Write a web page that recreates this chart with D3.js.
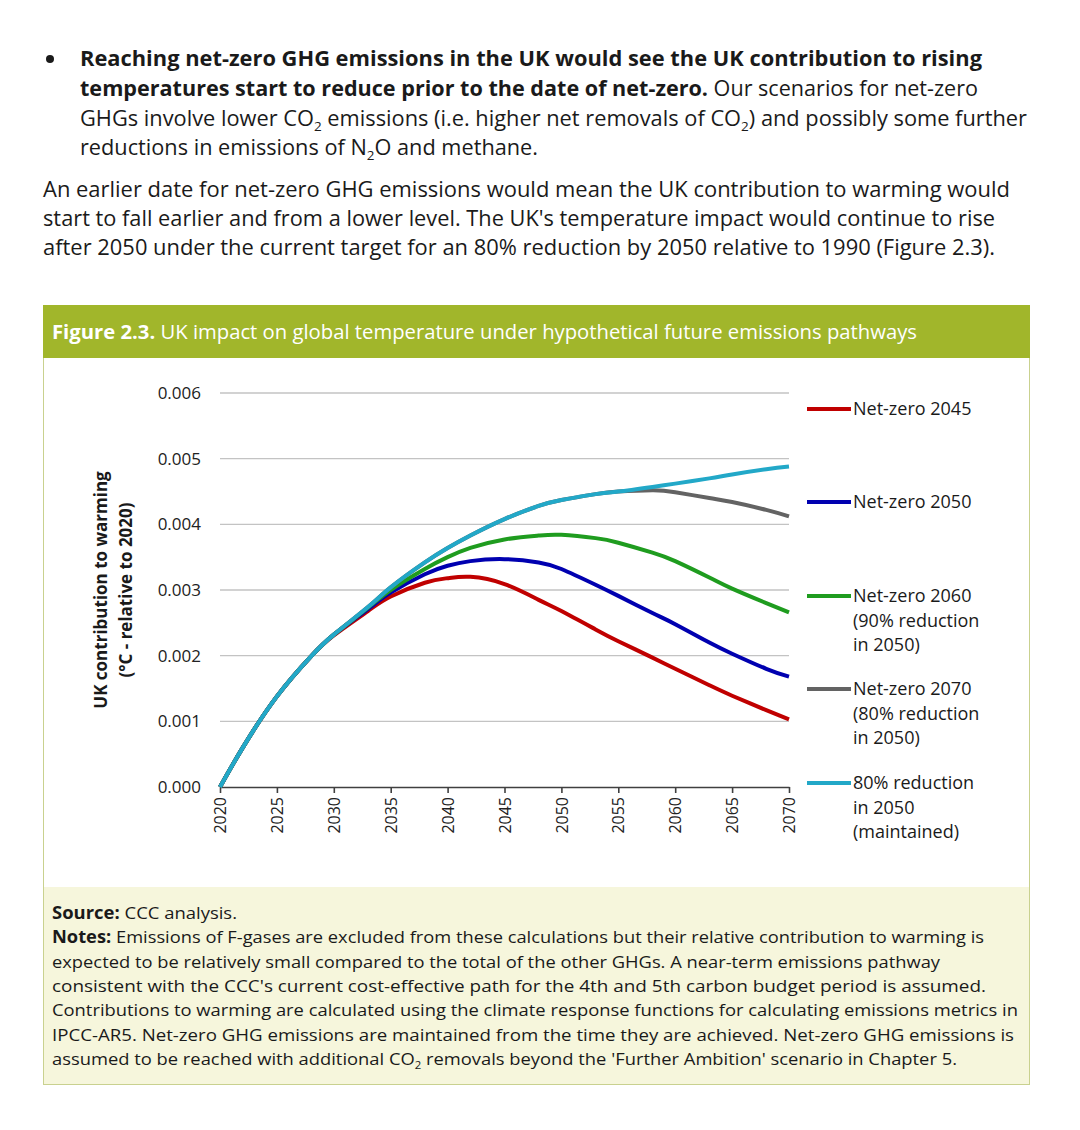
<!DOCTYPE html>
<html>
<head>
<meta charset="utf-8">
<script src="https://cdn.jsdelivr.net/npm/d3@7"></script>
<style>
  html, body { margin: 0; padding: 0; background: #fff; }
  svg { display: block; }
</style>
</head>
<body>
<div id="page"></div>
<script>
// data
const years = [2020, 2022, 2025, 2028, 2030, 2033, 2035, 2038, 2040, 2042, 2045,
  2048, 2050, 2053, 2055, 2058, 2060, 2063, 2065, 2068, 2070];

const netZero2045 = [0, 0.0006, 0.00138, 0.00199, 0.00231, 0.00268, 0.0029, 0.00311, 0.00318, 0.0032, 0.00309,
  0.00285, 0.00268, 0.0024, 0.00222, 0.00197, 0.0018, 0.00155, 0.00139, 0.00117, 0.00103];
const netZero2050 = [0, 0.0006, 0.00138, 0.00199, 0.00232, 0.00271, 0.00296, 0.00324, 0.00337, 0.00344, 0.00347,
  0.00342, 0.00332, 0.00308, 0.00291, 0.00265, 0.00248, 0.0022, 0.00203, 0.0018, 0.00168];
const netZero2060 = [0, 0.0006, 0.00138, 0.00199, 0.00232, 0.00273, 0.003, 0.00332, 0.0035, 0.00364, 0.00377,
  0.00383, 0.00384, 0.00379, 0.00372, 0.00357, 0.00344, 0.00319, 0.00302, 0.0028, 0.00266];
const netZero2070 = [0, 0.0006, 0.00138, 0.00199, 0.00232, 0.00274, 0.00304, 0.00342, 0.00364, 0.00383, 0.00408,
  0.00428, 0.00437, 0.00446, 0.0045, 0.00452, 0.00449, 0.0044, 0.00434, 0.00422, 0.00412];
const reduction80 = [0, 0.0006, 0.00138, 0.00199, 0.00232, 0.00274, 0.00304, 0.00342, 0.00364, 0.00383, 0.00408,
  0.00428, 0.00437, 0.00446, 0.0045, 0.00457, 0.00462, 0.0047, 0.00476, 0.00484, 0.00488];

const seriesNames = ["Net-zero 2045", "Net-zero 2050", "Net-zero 2060", "Net-zero 2070", "80% reduction"];
const seriesColors = ["#c00000", "#0000b0", "#1f9c1f", "#636363", "#22a8c8"];
const legendLines = [
  ["Net-zero 2045"],
  ["Net-zero 2050"],
  ["Net-zero 2060", "(90% reduction", "in 2050)"],
  ["Net-zero 2070", "(80% reduction", "in 2050)"],
  ["80% reduction", "in 2050", "(maintained)"]
];
const legendTop = [409, 502, 596, 689, 783];

const yTicks = [0, 0.001, 0.002, 0.003, 0.004, 0.005, 0.006];
const xTicks = [2020, 2025, 2030, 2035, 2040, 2045, 2050, 2055, 2060, 2065, 2070];

const W = 1080, H = 1130;
const bodyFont = "'Open Sans', 'Noto Sans', sans-serif";

const svg = d3.select("#page").append("svg")
  .attr("width", W)
  .attr("height", H);

// text line made of runs: {t, b (bold), s (subscript)}
function textLine(g, x, y, runs, size, width, color) {
  const t = g.append("text")
    .attr("x", x)
    .attr("y", y)
    .style("font-family", bodyFont)
    .style("font-size", size + "px")
    .attr("fill", color || "#1a1a1a");
  if (width) t.attr("textLength", width).attr("lengthAdjust", "spacingAndGlyphs");
  let shift = 0;
  runs.forEach(r => {
    const ts = t.append("tspan");
    if (r.s) {
      ts.attr("dy", size * 0.22).style("font-size", (size * 0.62) + "px");
      shift = size * 0.22;
    } else {
      if (shift) ts.attr("dy", -shift);
      shift = 0;
      ts.attr("font-weight", r.b ? 700 : 400);
    }
    ts.text(r.t);
  });
  return t;
}

// ---- paragraph above the figure
const para = svg.append("g");
para.append("circle").attr("cx", 50).attr("cy", 59).attr("r", 4).attr("fill", "#1a1a1a");
textLine(para, 80, 66, [{ t: "Reaching net-zero GHG emissions in the UK would see the UK contribution to rising", b: true }], 21, 902);
textLine(para, 80, 96, [{ t: "temperatures start to reduce prior to the date of net-zero.", b: true },
  { t: " Our scenarios for net-zero" }], 21, 898);
textLine(para, 80, 126, [{ t: "GHGs involve lower CO" }, { t: "2", s: true }, { t: " emissions (i.e. higher net removals of CO" },
  { t: "2", s: true }, { t: ") and possibly some further" }], 21, 947);
textLine(para, 80, 155, [{ t: "reductions in emissions of N" }, { t: "2", s: true }, { t: "O and methane." }], 21, 458);
textLine(para, 43, 197, [{ t: "An earlier date for net-zero GHG emissions would mean the UK contribution to warming would" }], 21, 967);
textLine(para, 43, 226, [{ t: "start to fall earlier and from a lower level. The UK's temperature impact would continue to rise" }], 21, 952);
textLine(para, 43, 255, [{ t: "after 2050 under the current target for an 80% reduction by 2050 relative to 1990 (Figure 2.3)." }], 21, 952);

// ---- figure box
const box = svg.append("g");
box.append("rect").attr("x", 43.5).attr("y", 305.5).attr("width", 986).attr("height", 779)
  .attr("fill", "#fff").attr("stroke", "#c9d18f").attr("stroke-width", 1);
box.append("rect").attr("x", 43).attr("y", 305).attr("width", 987).attr("height", 53).attr("fill", "#a1b62b");
box.append("rect").attr("x", 44).attr("y", 887).attr("width", 985).attr("height", 197).attr("fill", "#f6f6dc");
textLine(box, 52, 339, [{ t: "Figure 2.3.", b: true },
  { t: " UK impact on global temperature under hypothetical future emissions pathways" }], 20, 865, "#fff");

// notes
const notes = [
  [{ t: "Source:", b: true }, { t: " CCC analysis." }],
  [{ t: "Notes:", b: true }, { t: " Emissions of F-gases are excluded from these calculations but their relative contribution to warming is" }],
  [{ t: "expected to be relatively small compared to the total of the other GHGs. A near-term emissions pathway" }],
  [{ t: "consistent with the CCC's current cost-effective path for the 4th and 5th carbon budget period is assumed." }],
  [{ t: "Contributions to warming are calculated using the climate response functions for calculating emissions metrics in" }],
  [{ t: "IPCC-AR5. Net-zero GHG emissions are maintained from the time they are achieved. Net-zero GHG emissions is" }],
  [{ t: "assumed to be reached with additional CO" }, { t: "2", s: true }, { t: " removals beyond the 'Further Ambition' scenario in Chapter 5." }]
];
const noteWidths = [185, 932, 888, 934, 966, 962, 905];
notes.forEach((runs, i) => {
  textLine(box, 52, 919 + i * 24.3, runs, 17, noteWidths[i]);
});

// ---- chart
const x = d3.scaleLinear().domain([2020, 2070]).range([220, 789]);
const y = d3.scaleLinear().domain([0, 0.006]).range([787, 393]);
const chart = svg.append("g").style("font-family", bodyFont);

// gridlines
chart.append("g")
  .selectAll("line")
  .data(yTicks.filter(d => d > 0))
  .enter()
  .append("line")
  .attr("x1", x(2020))
  .attr("x2", x(2070))
  .attr("y1", d => y(d))
  .attr("y2", d => y(d))
  .attr("stroke", "#c3c3c3")
  .attr("stroke-width", 1.3);

// y axis labels
const yAxis = chart.append("g")
  .attr("transform", "translate(" + x(2020) + ",0)")
  .call(d3.axisLeft(y).tickValues(yTicks).tickFormat(d3.format(".3f")).tickSize(0).tickPadding(19));
yAxis.select(".domain").remove();
yAxis.selectAll("text")
  .style("font-family", bodyFont)
  .style("font-size", "17px")
  .attr("fill", "#222");

// x axis
const xAxis = chart.append("g")
  .attr("transform", "translate(0," + y(0) + ")")
  .call(d3.axisBottom(x).tickValues(xTicks).tickFormat(d3.format("d")).tickSizeInner(6).tickSizeOuter(0));
xAxis.select(".domain").attr("stroke", "#404040").attr("stroke-width", 1.6);
xAxis.selectAll(".tick line").attr("stroke", "#404040").attr("stroke-width", 1.6);
xAxis.selectAll("text")
  .style("font-family", bodyFont)
  .style("font-size", "16px")
  .attr("fill", "#222")
  .attr("transform", "rotate(-90)")
  .attr("x", -10)
  .attr("y", 0)
  .attr("dy", "0.35em")
  .style("text-anchor", "end");

// y axis title
const yTitle = chart.append("text")
  .attr("transform", "translate(107,590) rotate(-90)")
  .attr("text-anchor", "middle")
  .style("font-size", "17px")
  .attr("font-weight", 700)
  .attr("fill", "#1a1a1a");
yTitle.append("tspan").attr("x", 0).attr("dy", 0).text("UK contribution to warming");
yTitle.append("tspan").attr("x", 0).attr("dy", 25).text("(\u00B0C - relative to 2020)");

// lines
const allSeries = [netZero2045, netZero2050, netZero2060, netZero2070, reduction80];
const line = d3.line()
  .curve(d3.curveNatural)
  .x(d => x(d[0]))
  .y(d => y(d[1]));

chart.append("g")
  .selectAll("path")
  .data(allSeries)
  .enter()
  .append("path")
  .attr("fill", "none")
  .attr("stroke", (d, i) => seriesColors[i])
  .attr("stroke-width", 4)
  .attr("stroke-linejoin", "round")
  .attr("d", d => line(d.map((v, i) => [years[i], v])));

// legend
const legend = chart.append("g");
legendLines.forEach((lines, i) => {
  const top = legendTop[i];
  legend.append("line")
    .attr("x1", 807)
    .attr("x2", 851)
    .attr("y1", top)
    .attr("y2", top)
    .attr("stroke", seriesColors[i])
    .attr("stroke-width", 4);
  const t = legend.append("text")
    .attr("x", 853)
    .attr("y", top + 6)
    .style("font-size", "18px")
    .attr("fill", "#1a1a1a")
    .attr("aria-label", seriesNames[i]);
  lines.forEach((s, j) => {
    t.append("tspan").attr("x", 853).attr("dy", j === 0 ? 0 : 24.5).text(s);
  });
});
</script>
</body>
</html>
